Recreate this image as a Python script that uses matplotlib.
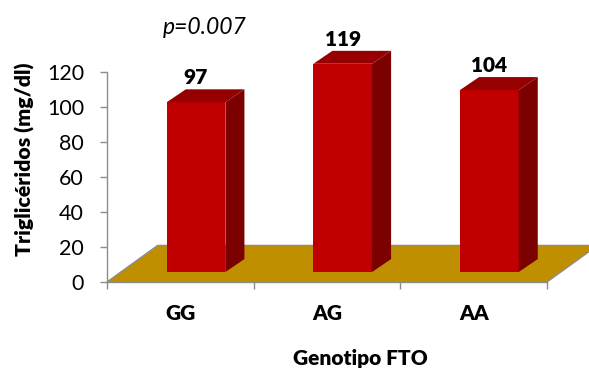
import matplotlib
matplotlib.use("Agg")
import matplotlib.pyplot as plt
from matplotlib.patches import Polygon

# Data
genotypes = ["GG", "AG", "AA"]
triglycerides = [97, 119, 104]
y_ticks = [0, 20, 40, 60, 80, 100, 120]
p_text = "p=0.007"

# Styling for the pseudo-3D look
FRONT = "#C00000"
SIDE = "#7B0000"
TOP = "#960000"
FLOOR = "#BF8F00"
GRAY = "#8C8C8C"
bar_shift = 0.107      # front face offset from category centre
bar_width = 0.40
lift = 5.7             # bars stand inside the floor depth
depth_dx, depth_dy = 0.13, 7.4
floor_dx, floor_dy = 0.345, 20.9

plt.rcParams["font.family"] = ["Lato", "DejaVu Sans"]

fig = plt.figure(figsize=(5.89, 3.70), dpi=100)
ax = fig.add_axes([107 / 589, 88 / 370, 440 / 589, 210 / 370])
ax.set_xlim(-0.5, len(genotypes) - 0.5)
ax.set_ylim(0, 120)

# Floor
x0, x1 = -0.5, len(genotypes) - 0.5
floor = Polygon([(x0, 0), (x1, 0), (x1 + floor_dx, floor_dy), (x0 + floor_dx, floor_dy)],
                closed=True, facecolor=FLOOR, edgecolor=GRAY, linewidth=1.0,
                clip_on=False, zorder=1)
ax.add_patch(floor)

# Bars: front faces through ax.bar, side and top faces from the same values
xs = [i + bar_shift for i in range(len(genotypes))]
ax.bar(xs, triglycerides, width=bar_width, bottom=lift, color=FRONT,
       edgecolor="none", zorder=3, clip_on=False)
for x, v in zip(xs, triglycerides):
    l, r = x - bar_width / 2, x + bar_width / 2
    b, t = lift, lift + v
    side = Polygon([(r, b), (r + depth_dx, b + depth_dy), (r + depth_dx, t + depth_dy), (r, t)],
                   closed=True, facecolor=SIDE, edgecolor="none", zorder=3, clip_on=False)
    top = Polygon([(l, t), (r, t), (r + depth_dx, t + depth_dy), (l + depth_dx, t + depth_dy)],
                  closed=True, facecolor=TOP, edgecolor="none", zorder=3, clip_on=False)
    ax.add_patch(side)
    ax.add_patch(top)
    ax.annotate(f"{v}", (x, t + depth_dy), xytext=(0, 3.5), textcoords="offset points",
                ha="center", va="baseline", fontsize=15, fontweight="heavy",
                color="black", annotation_clip=False)

# Axes styling
for s in ("top", "right"):
    ax.spines[s].set_visible(False)
for s in ("left", "bottom"):
    ax.spines[s].set_color(GRAY)
    ax.spines[s].set_linewidth(1.0)
    ax.spines[s].set_zorder(2)
ax.set_yticks(y_ticks)
ax.tick_params(axis="y", length=5, width=1.0, color=GRAY, pad=11.5, labelsize=15.5)
ax.set_xticks(range(len(genotypes)))
ax.set_xticklabels(genotypes, fontweight="heavy")
ax.tick_params(axis="x", which="major", length=0, pad=16, labelsize=15)
ax.set_xticks([i - 0.5 for i in range(len(genotypes) + 1)], minor=True)
ax.tick_params(axis="x", which="minor", length=5, width=1.0, color=GRAY)
ax.patch.set_visible(False)

ax.set_ylabel("Triglicéridos (mg/dl)", fontsize=15.3, fontweight="heavy")
ax.yaxis.set_label_coords(-0.163, 0.583, transform=ax.transAxes)
fig.text(360 / 589, 1 - 358 / 370, "Genotipo FTO", ha="center", va="center",
         fontsize=15, fontweight="heavy")
fig.text(205 / 589, 1 - 27 / 370, p_text, ha="center", va="center",
         fontsize=16.5, style="italic")

fig.savefig("out.png", dpi=100)
